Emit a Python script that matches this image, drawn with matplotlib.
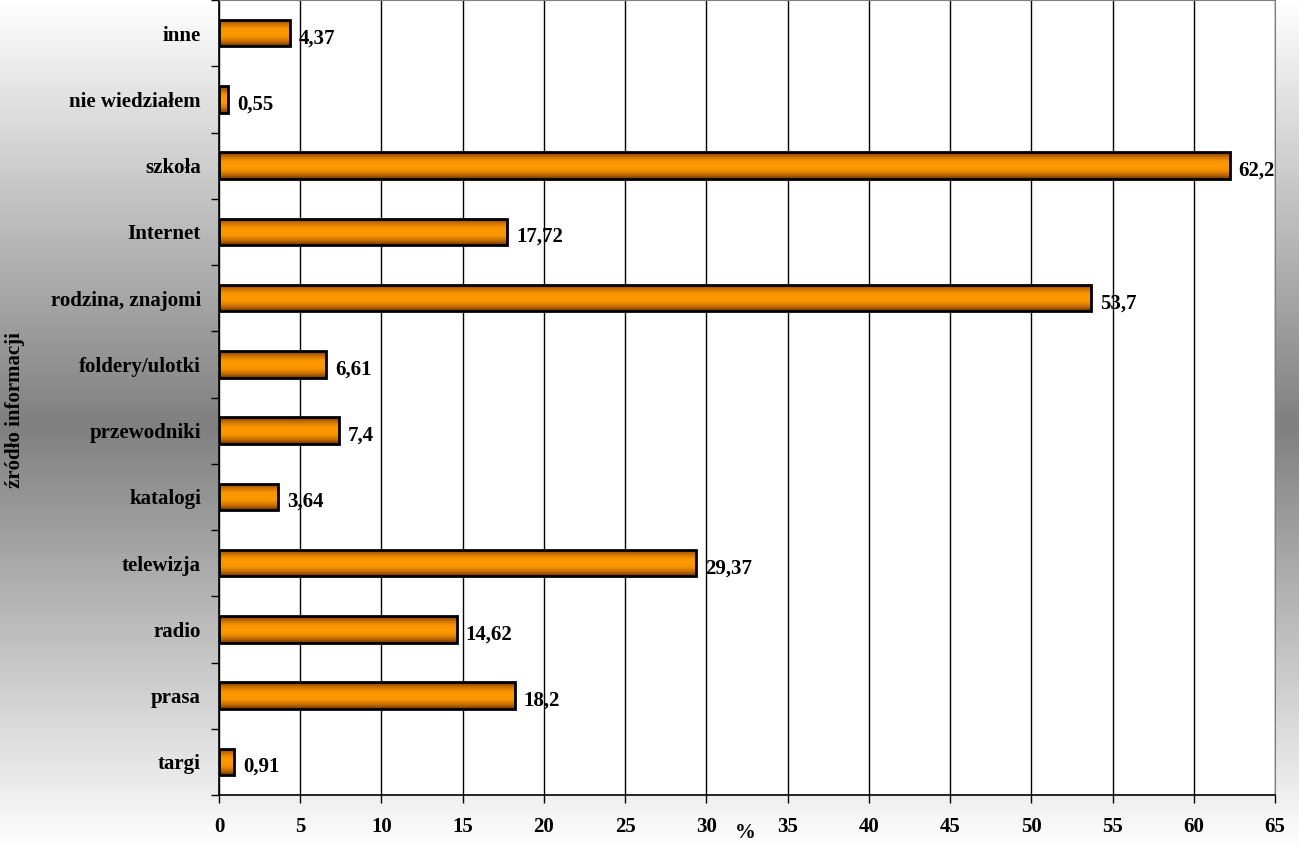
import numpy as np
import matplotlib
matplotlib.use("Agg")
import matplotlib.pyplot as plt
from matplotlib.colors import LinearSegmentedColormap
import matplotlib.transforms as mtransforms

categories = ["targi", "prasa", "radio", "telewizja", "katalogi", "przewodniki",
              "foldery/ulotki", "rodzina, znajomi", "Internet", "szkoła",
              "nie wiedziałem", "inne"]
values = [0.91, 18.2, 14.62, 29.37, 3.64, 7.4, 6.61, 53.7, 17.72, 62.2, 0.55, 4.37]
value_labels = ["0,91", "18,2", "14,62", "29,37", "3,64", "7,4", "6,61", "53,7",
                "17,72", "62,2", "0,55", "4,37"]
xticks = list(range(0, 70, 5))

font = ["Liberation Serif", "DejaVu Serif"]
plt.rcParams["font.family"] = font
FS = 15

fig = plt.figure(figsize=(12.99, 8.5), dpi=100)

# figure background gradient (white - gray - white, vertical)
bg = fig.add_axes([0, 0, 1, 1], zorder=-10)
t = np.linspace(0, 1, 256)
g = 1 - 0.5 * (1 - np.abs(2 * t - 1))
bg.imshow(np.dstack([g, g, g]).reshape(256, 1, 3), aspect="auto",
          extent=[0, 1, 0, 1], interpolation="bicubic")
bg.set_axis_off()

ax = fig.add_axes([219 / 1299, 55 / 850, (1275 - 219) / 1299, 795 / 850])
ax.set_facecolor("white")
y = np.arange(len(categories))
bars = ax.barh(y, values, height=0.4, facecolor="none", edgecolor="black",
               linewidth=2, zorder=3)

# gradient fill for bars
cmap = LinearSegmentedColormap.from_list(
    "bar", ["#6E3800", "#C86E00", "#F59300", "#FF9900", "#F59300", "#C86E00", "#6E3800"])
grad = np.linspace(0, 1, 100).reshape(-1, 1)
for b in bars:
    x0, y0 = b.get_x(), b.get_y()
    w, h = b.get_width(), b.get_height()
    im = ax.imshow(grad, cmap=cmap, aspect="auto", extent=[x0, x0 + w, y0, y0 + h],
                   zorder=2.5, interpolation="bicubic")
    im.set_clip_path(b)

ax.set_xlim(0, 65)
ax.set_ylim(-0.5, len(categories) - 0.5)
ax.set_xticks(xticks)
ax.set_xticklabels([str(v) for v in xticks], fontsize=FS, fontweight="bold")
ax.set_yticks(y)
ax.set_yticklabels(categories, fontsize=FS, fontweight="bold")
ax.tick_params(axis="y", length=0, pad=13)
ax.set_yticks(np.arange(-0.5, len(categories), 1), minor=True)
ax.tick_params(axis="y", which="minor", length=6, width=1, direction="out")
ax.tick_params(axis="x", length=6, width=1, direction="out", pad=10)
ax.grid(axis="x", color="black", linewidth=1, zorder=1)
ax.set_axisbelow(True)

for s in ["top", "right"]:
    ax.spines[s].set_color("#808080")
for s in ["left", "bottom"]:
    ax.spines[s].set_color("black")
    ax.spines[s].set_linewidth(1.2)

offset = mtransforms.offset_copy(ax.transData, fig=fig, x=9, y=-5, units="dots")
for yi, v, lab in zip(y, values, value_labels):
    ax.text(v, yi, lab, transform=offset, ha="left", va="center",
            fontsize=FS, fontweight="bold", zorder=5)

fig.text(745 / 1299, 1 - 833 / 850, "%", ha="center", va="center",
         fontsize=FS, fontweight="bold")
fig.text(15 / 1299, 1 - 410 / 850, "źródło informacji", rotation=90,
         ha="center", va="center", fontsize=FS, fontweight="bold")

fig.savefig("out.png", dpi=100)
